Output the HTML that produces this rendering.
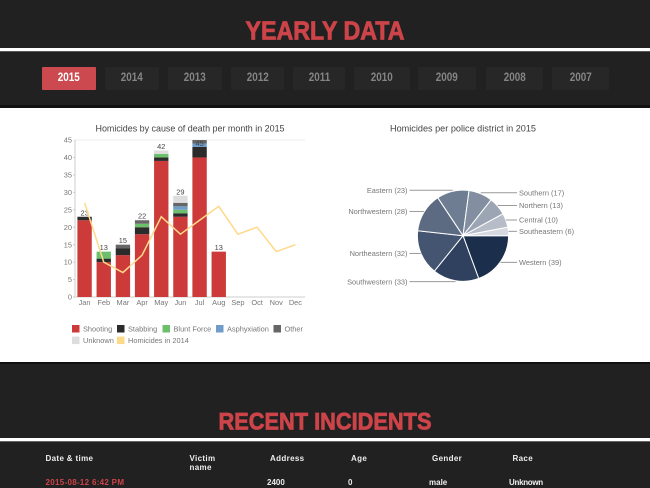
<!DOCTYPE html>
<html>
<head>
<meta charset="utf-8">
<style>
html,body{margin:0;padding:0;background:#212121;}
#page{position:relative;width:650px;height:488px;overflow:hidden;background:#212121;font-family:"Liberation Sans",sans-serif;}
.abs{position:absolute;}
.year{position:absolute;top:67px;height:22.5px;line-height:22.5px;text-align:center;background:#272727;color:#858585;font-size:11.5px;font-weight:bold;border-radius:1px;cursor:pointer;}
.year span{display:inline-block;transform:scaleX(.86);}
.year.active{background:#cc4a4f;color:#fff;}
.th,.td{position:absolute;font-size:8px;font-weight:bold;color:#eee;white-space:nowrap;}
.th{letter-spacing:.35px;line-height:9px;}
svg text{font-family:"Liberation Sans",sans-serif;}
</style>
</head>
<body>
<div id="page">
  <svg class="abs" style="left:0;top:0" width="650" height="48">
    <text x="245.5" y="39.3" font-size="25.5" font-weight="bold" fill="#cc4449" stroke="#cc4449" stroke-width=".8" textLength="159" lengthAdjust="spacingAndGlyphs">YEARLY DATA</text>
  </svg>
  <div class="abs" style="left:0;top:48px;width:650px;height:3px;background:#fff"></div>
  <div class="abs" style="left:0;top:51px;width:650px;height:1px;background:#555"></div>

  <div class="year active" style="left:42px;width:54px"><span>2015</span></div>
  <div class="year" style="left:105px;width:54px"><span>2014</span></div>
  <div class="year" style="left:168px;width:54px"><span>2013</span></div>
  <div class="year" style="left:231px;width:53px"><span>2012</span></div>
  <div class="year" style="left:293px;width:52px"><span>2011</span></div>
  <div class="year" style="left:354px;width:56px"><span>2010</span></div>
  <div class="year" style="left:418px;width:58px"><span>2009</span></div>
  <div class="year" style="left:486px;width:57px"><span>2008</span></div>
  <div class="year" style="left:552px;width:57px"><span>2007</span></div>

  <div class="abs" style="left:0;top:105px;width:650px;height:3px;background:#111"></div>
  <div class="abs" style="left:0;top:108px;width:650px;height:254px;background:#fff"></div>
  <div class="abs" style="left:0;top:362px;width:650px;height:2px;background:#111"></div>

  <svg id="chart" class="abs" style="left:0;top:108px" width="650" height="254" viewBox="0 108 650 254"></svg>

  <svg class="abs" style="left:0;top:395px" width="650" height="43" viewBox="0 395 650 43">
    <text x="218.5" y="429.3" font-size="24.5" font-weight="bold" fill="#cc4449" stroke="#cc4449" stroke-width=".8" textLength="213" lengthAdjust="spacingAndGlyphs">RECENT INCIDENTS</text>
  </svg>
  <div class="abs" style="left:0;top:438px;width:650px;height:3px;background:#fff"></div>
  <div class="abs" style="left:0;top:441px;width:650px;height:1px;background:#666"></div>

  <div class="th" style="left:45.5px;top:454px">Date &amp; time</div>
  <div class="th" style="left:189.5px;top:454px">Victim<br>name</div>
  <div class="th" style="left:270px;top:454px">Address</div>
  <div class="th" style="left:351px;top:454px">Age</div>
  <div class="th" style="left:432px;top:454px">Gender</div>
  <div class="th" style="left:512.5px;top:454px">Race</div>

  <div class="td" style="left:45.5px;top:478px;color:#cc4449;letter-spacing:.3px">2015-08-12 6:42 PM</div>
  <div class="td" style="left:267px;top:478px">2400</div>
  <div class="td" style="left:348px;top:478px">0</div>
  <div class="td" style="left:429px;top:478px">male</div>
  <div class="td" style="left:509px;top:478px;letter-spacing:-.3px">Unknown</div>
</div>

<script>
var months = ['Jan','Feb','Mar','Apr','May','Jun','Jul','Aug','Sep','Oct','Nov','Dec'];
var shooting =    [22,10,12,18,39,23,40,13,0,0,0,0];
var stabbing =    [1,1,2,2,1,1,3,0,0,0,0,0];
var bluntForce =  [0,2,0,1,1,1,0,0,0,0,0,0];
var asphyxiation =[0,0,0,0,0,1,1,0,0,0,0,0];
var other =       [0,0,1,1,0,1,1,0,0,0,0,0];
var unknown =     [0,0,0,0,1,2,0,0,0,0,0,0];
var homicides2014 = [27,10,7,12,23,18,22,26,18,20,13,15];
var yTicks = [0,5,10,15,20,25,30,35,40,45];
var districtNames = ['Western','Southwestern','Northeastern','Northwestern','Eastern','Southern','Northern','Central','Southeastern'];
var districtValues = [39,33,32,28,23,17,13,10,6];

var NS = 'http://www.w3.org/2000/svg';
var svg = document.getElementById('chart');
function mk(tag, attrs, txt, parent) {
  var e = document.createElementNS(NS, tag);
  for (var k in attrs) e.setAttribute(k, attrs[k]);
  if (txt !== undefined && txt !== null) e.textContent = txt;
  (parent || svg).appendChild(e);
  return e;
}
var X0 = 75, X1 = 305, Y0 = 297, Y1 = 140, YMAX = 45;
var band = (X1 - X0) / months.length;
function xCenter(i) { return X0 + band * (i + 0.5); }
function yScale(v) { return Y0 - (v / YMAX) * (Y0 - Y1); }

var barTitle = mk('text', {x:190, y:131.5, 'text-anchor':'middle', 'font-size':9.2, fill:'#444', textLength:189, lengthAdjust:'spacingAndGlyphs'}, 'Homicides by cause of death per month in 2015');



yTicks.forEach(function (t) {
  var y = yScale(t);
  var tick = mk('line', {x1:73, x2:t === 45 ? X1 : 75, y1:y, y2:y, stroke:t === 45 ? '#eee' : '#ccc', 'stroke-width':1});
  
  
  var lab = mk('text', {x:72, y:y + 2.6, 'text-anchor':'end', 'font-size':7.4, fill:'#777'}, t);
  
  
});
var yAxis = mk('line', {x1:X0, x2:X0, y1:Y1, y2:Y0, stroke:'#ccc', 'stroke-width':1});


var xAxis = mk('line', {x1:X0, x2:X1, y1:Y0, y2:Y0, stroke:'#ccc', 'stroke-width':1});



var stackSeries = [
  {key:'shooting', values:shooting, color:'#cc3a3a'},
  {key:'stabbing', values:stabbing, color:'#2b2b2b'},
  {key:'blunt-force', values:bluntForce, color:'#6cc06c'},
  {key:'asphyxiation', values:asphyxiation, color:'#6f9cc9'},
  {key:'other', values:other, color:'#666666'},
  {key:'unknown', values:unknown, color:'#dddddd'}
];
var barW = band * 0.75;
months.forEach(function (m, i) {
  var cum = 0;
  stackSeries.forEach(function (s) {
    var v = s.values[i];
    if (!v) return;
    var top = yScale(cum + v), bot = yScale(cum);
    var r = mk('rect', {x:xCenter(i) - barW / 2, y:top, width:barW, height:bot - top, fill:s.color});
    
    
    cum += v;
  });
  if (cum > 0) {
    var ly = Math.max(yScale(cum) - 1.5, Y1 + 6);
    var tl = mk('text', {x:xCenter(i), y:ly, 'text-anchor':'middle', 'font-size':7.4, fill:'#444'}, cum);
    
    
  }
  var xl = mk('text', {x:xCenter(i), y:305.2, 'text-anchor':'middle', 'font-size':7.4, fill:'#777'}, m);
  
  
});

var pts = homicides2014.map(function (v, i) { return xCenter(i) + ',' + yScale(v); }).join(' ');
var line14 = mk('polyline', {points:pts, fill:'none', stroke:'#ffd98a', 'stroke-width':1.5});



var legendRows = [
  [['Shooting','#cc3a3a',72],['Stabbing','#2b2b2b',117],['Blunt Force','#6cc06c',162.5],['Asphyxiation','#6f9cc9',216],['Other','#666666',273.5]],
  [['Unknown','#dddddd',72],['Homicides in 2014','#ffd98a',117]]
];
legendRows.forEach(function (row, ri) {
  row.forEach(function (it) {
    var ty = 325 + ri * 11.6;
    var sq = mk('rect', {x:it[2], y:ty, width:7.5, height:7.5, fill:it[1]});
    
    
    var lt = mk('text', {x:it[2] + 11, y:ty + 6.5, 'font-size':7.4, fill:'#777'}, it[0]);
    
    
  });
});

var pieTitle = mk('text', {x:463, y:131.5, 'text-anchor':'middle', 'font-size':9.2, fill:'#444', textLength:146, lengthAdjust:'spacingAndGlyphs'}, 'Homicides per police district in 2015');



var pieColors = ['#1b2e4b','#2f415e','#445571','#5c6b82','#6f7d92','#838fa1','#9ca5b4','#b7bdc8','#d6d9df'];
var CX = 463, CY = 235.7, R = 45.6;
var total = districtValues.reduce(function (a, b) { return a + b; }, 0);
var ang = 0;
districtValues.forEach(function (v, i) {
  var a0 = ang, a1 = ang + v / total * Math.PI * 2, mid = (a0 + a1) / 2;
  ang = a1;
  var large = (a1 - a0) > Math.PI ? 1 : 0;
  var d = 'M' + CX + ',' + CY + 'L' + (CX + R * Math.cos(a0)) + ',' + (CY + R * Math.sin(a0)) +
          'A' + R + ',' + R + ' 0 ' + large + ' 1 ' + (CX + R * Math.cos(a1)) + ',' + (CY + R * Math.sin(a1)) + 'Z';
  var slice = mk('path', {d:d, fill:pieColors[i], stroke:'#fff', 'stroke-width':1});
  
  
  var right = Math.cos(mid) >= 0;
  var ey = CY + (R + 1) * Math.sin(mid);
  var ex = CX + R * Math.cos(mid);
  var leader = mk('line', {x1:ex, x2:right ? 517 : 409.5, y1:ey, y2:ey, stroke:'#999', 'stroke-width':1});
  
  
  var lab = mk('text', {x:right ? 519 : 407.5, y:ey + 2.6, 'text-anchor':right ? 'start' : 'end', 'font-size':7.4, fill:'#777'}, districtNames[i] + ' (' + v + ')');
  
  
});
</script>
</body>
</html>
